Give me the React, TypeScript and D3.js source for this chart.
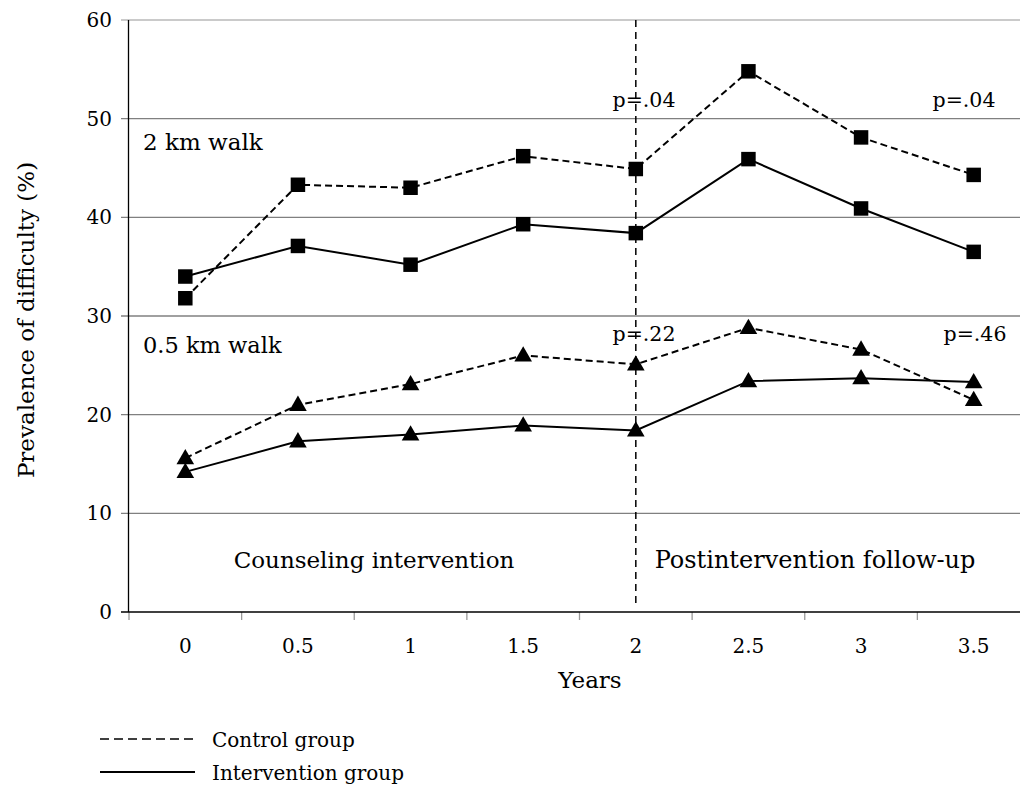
import React, { useEffect, useRef } from 'react';
import * as d3 from 'd3';

const W = 1020;
const H = 791;

const years = ['0', '0.5', '1', '1.5', '2', '2.5', '3', '3.5'];
const walk2Control = [31.8, 43.3, 43.0, 46.2, 44.9, 54.8, 48.1, 44.3];
const walk2Interv = [34.0, 37.1, 35.2, 39.3, 38.4, 45.9, 40.9, 36.5];
const walk05Control = [15.6, 21.0, 23.1, 26.0, 25.1, 28.8, 26.6, 21.5];
const walk05Interv = [14.2, 17.3, 18.0, 18.9, 18.4, 23.4, 23.7, 23.3];
const yTicks = [0, 10, 20, 30, 40, 50, 60];

const FONT = '"DejaVu Serif", serif';

const App = () => {
  const svgRef = useRef<SVGSVGElement>(null);

  useEffect(() => {
    const svg = d3.select(svgRef.current);
    svg.selectAll('*').remove();

    const x = d3.scaleBand().domain(years).range([129, 1030]);
    const y = d3.scaleLinear().domain([0, 60]).range([612, 20]);
    const cx = (i: number) => x(years[i])! + x.bandwidth() / 2;

    // gridlines
    svg.append('g')
      .selectAll('line')
      .data(yTicks.filter(t => t > 0))
      .join('line')
        .attr('x1', 121).attr('x2', W)
        .attr('y1', d => y(d)).attr('y2', d => y(d))
        .attr('stroke', d => d === 60 ? '#b8b8b8' : '#808080')
        .attr('stroke-width', 1.3);

    // y axis labels
    svg.append('g')
      .selectAll('text')
      .data(yTicks)
      .join('text')
        .attr('x', 112).attr('y', d => y(d) + 7)
        .attr('text-anchor', 'end')
        .style('font', `20px ${FONT}`)
        .text(d => d);

    // x ticks
    svg.append('g')
      .selectAll('line')
      .data(years)
      .join('line')
        .attr('x1', d => x(d)!).attr('x2', d => x(d)!)
        .attr('y1', 612).attr('y2', 620)
        .attr('stroke', '#999').attr('stroke-width', 1.3);

    svg.append('g')
      .selectAll('text')
      .data(years)
      .join('text')
        .attr('x', (d, i) => cx(i)).attr('y', 653)
        .attr('text-anchor', 'middle')
        .style('font', `20px ${FONT}`)
        .text(d => d);

    // axes
    svg.append('line').attr('x1', 128.5).attr('x2', 128.5).attr('y1', 20).attr('y2', 612)
      .attr('stroke', '#000').attr('stroke-width', 1.3);
    svg.append('line').attr('x1', 121).attr('x2', W).attr('y1', 612).attr('y2', 612)
      .attr('stroke', '#000').attr('stroke-width', 1.3);

    // vertical divider
    svg.append('line').attr('x1', cx(4)).attr('x2', cx(4)).attr('y1', 20).attr('y2', 603)
      .attr('stroke', '#000').attr('stroke-width', 1.5).attr('stroke-dasharray', '7,5');

    const line = d3.line<number>().x((d, i) => cx(i)).y(d => y(d));

    const series = [
      { data: walk2Control, dashed: true, shape: 'square' },
      { data: walk2Interv, dashed: false, shape: 'square' },
      { data: walk05Control, dashed: true, shape: 'triangle' },
      { data: walk05Interv, dashed: false, shape: 'triangle' },
    ];

    series.forEach(s => {
      svg.append('path')
        .attr('d', line(s.data))
        .attr('fill', 'none')
        .attr('stroke', '#000')
        .attr('stroke-width', 2)
        .attr('stroke-dasharray', s.dashed ? '7,4' : null);
      const sym = d3.symbol()
        .type(s.shape === 'square' ? d3.symbolSquare : d3.symbolTriangle)
        .size(s.shape === 'square' ? 210 : 135);
      svg.append('g')
        .selectAll('path')
        .data(s.data)
        .join('path')
          .attr('transform', (d, i) => `translate(${cx(i)},${y(d) + (s.shape === 'triangle' ? 1 : 0)})`)
          .attr('d', sym()!)
          .attr('fill', '#000');
    });

    const labels = [
      { t: '2 km walk', x: 143, y: 150, a: 'start', s: 23 },
      { t: '0.5 km walk', x: 143, y: 353, a: 'start', s: 22.5 },
      { t: 'p=.04', x: 644, y: 107, a: 'middle', s: 20.5 },
      { t: 'p=.04', x: 964, y: 107, a: 'middle', s: 20.5 },
      { t: 'p=.22', x: 644, y: 341, a: 'middle', s: 20.5 },
      { t: 'p=.46', x: 975, y: 341, a: 'middle', s: 20.5 },
      { t: 'Counseling intervention', x: 374, y: 568, a: 'middle', s: 23 },
      { t: 'Postintervention follow-up', x: 815, y: 568, a: 'middle', s: 24 },
      { t: 'Years', x: 590, y: 688, a: 'middle', s: 23 },
    ];
    svg.append('g')
      .selectAll('text')
      .data(labels)
      .join('text')
        .attr('x', d => d.x).attr('y', d => d.y)
        .attr('text-anchor', d => d.a)
        .style('font', d => `${d.s}px ${FONT}`)
        .text(d => d.t);

    svg.append('text')
      .attr('transform', `translate(34,320) rotate(-90)`)
      .attr('text-anchor', 'middle')
      .style('font', `23px ${FONT}`)
      .text('Prevalence of difficulty (%)');

    // legend
    svg.append('line').attr('x1', 100).attr('x2', 195).attr('y1', 739).attr('y2', 739)
      .attr('stroke', '#000').attr('stroke-width', 1.5).attr('stroke-dasharray', '9,5');
    svg.append('line').attr('x1', 100).attr('x2', 195).attr('y1', 772).attr('y2', 772)
      .attr('stroke', '#000').attr('stroke-width', 2);
    svg.append('text').attr('x', 212).attr('y', 747).style('font', `20px ${FONT}`).text('Control group');
    svg.append('text').attr('x', 212).attr('y', 780).style('font', `20px ${FONT}`).text('Intervention group');
  }, []);

  return (
    <svg ref={svgRef} width={W} height={H}
      style={{ position: 'absolute', left: 0, top: 0, background: '#fff' }} />
  );
};

export default App;
